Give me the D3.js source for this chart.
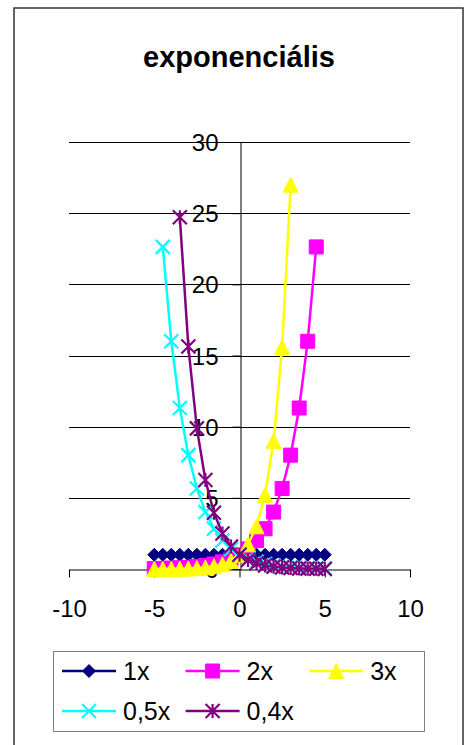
<!DOCTYPE html>
<html>
<head>
<meta charset="utf-8">
<script src="https://cdn.jsdelivr.net/npm/d3@7"></script>
<style>
	body{margin:0;background:#fff;}
	svg text{font-family:"Liberation Sans",Arial,sans-serif;fill:#000;}
</style>
</head>
<body>
<div id="app"></div>
<script>
const appSelector = "#app";

const title = "exponenciális";
const xValues = [-5,-4.5,-4,-3.5,-3,-2.5,-2,-1.5,-1,-0.5,0,0.5,1,1.5,2,2.5,3,3.5,4,4.5,5];
const y1x = [1,1,1,1,1,1,1,1,1,1,1,1,1,1,1,1,1,1,1,1,1];
const y2x = [0.031,0.044,0.063,0.088,0.125,0.177,0.25,0.354,0.5,0.707,1,1.414,2,2.83,4,5.66,8,11.31,16,22.63,null];
const y3x = [0.004,0.007,0.012,0.021,0.037,0.064,0.111,0.192,0.333,0.577,1,1.732,3,5.2,9,15.59,27,null,null,null,null];
const y05x = [null,22.63,16,11.31,8,5.66,4,2.83,2,1.414,1,0.707,0.5,0.354,0.25,0.177,0.125,0.088,0.063,0.044,0.031];
const y04x = [null,null,null,24.71,15.63,9.88,6.25,3.95,2.5,1.58,1,0.632,0.4,0.253,0.16,0.101,0.064,0.04,0.026,0.016,0.01];
const seriesNames = ["1x","2x","3x","0,5x","0,4x"];
const seriesValues = [y1x,y2x,y3x,y05x,y04x];
const seriesColors = ["#000080","#ff00ff","#ffff00","#00ffff","#800080"];
const seriesMarkers = ["diamond","square","triangle","x","star"];
const xTicks = [-10,-5,0,5,10];
const yTicks = [0,5,10,15,20,25,30];

const W = 464, H = 745;
const plot = {left:69, right:410, top:142, bottom:569};

const svg = d3.select(appSelector).append("svg").attr("width",W).attr("height",H);

//outer chart border
svg.append("rect").attr("x",14).attr("y",8).attr("width",449).attr("height",760)
	.attr("fill","none").attr("stroke","#333").attr("stroke-width",1.5);

svg.append("text").attr("x",239).attr("y",67).attr("text-anchor","middle")
	.style("font-size","29px").style("font-weight","bold").text(title);

const x = d3.scaleLinear().domain([-10,10]).range([plot.left,plot.right]);
const y = d3.scaleLinear().domain([0,30]).range([plot.bottom,plot.top]);

//gridlines
svg.append("g").selectAll("line").data(yTicks.filter(t=>t>0)).enter().append("line")
	.attr("x1",plot.left).attr("x2",plot.right)
	.attr("y1",d=>Math.round(y(d))+0.5).attr("y2",d=>Math.round(y(d))+0.5)
	.attr("stroke","#000").attr("stroke-width",1);

//plain hyphen for negatives, like the original
const fmt = d=>String(d);

//x axis through y=0
const xAxis = svg.append("g").attr("transform","translate(0,"+(Math.round(y(0))+0.5)+")")
	.call(d3.axisBottom(x).tickValues(xTicks).tickSize(8).tickSizeOuter(0).tickFormat(fmt));
//y axis through x=0
const yAxis = svg.append("g").attr("transform","translate("+(Math.round(x(0))+0.5)+",0)")
	.call(d3.axisLeft(y).tickValues(yTicks).tickSize(8).tickSizeOuter(0).tickFormat(fmt));

[xAxis,yAxis].forEach(function(a){
	a.select(".domain").attr("stroke","#000");
	a.selectAll(".tick line").attr("stroke","#000");
	a.selectAll(".tick text").style("font-size","24px").attr("font-family",null);
});
xAxis.selectAll(".tick text").attr("y",0).attr("dy",null).attr("dominant-baseline","central")
	.attr("transform","translate(0,39)");
yAxis.selectAll(".tick text").attr("x",-22).attr("dy",null).attr("dominant-baseline","central");

//marker shapes
function markerPath(type, s){
	let h = s/2;
	switch(type){
		case "diamond": return "M0,"+(-h)+"L"+h+",0L0,"+h+"L"+(-h)+",0Z";
		case "square": return "M"+(-h)+","+(-h)+"H"+h+"V"+h+"H"+(-h)+"Z";
		case "triangle": return "M0,"+(-h)+"L"+h+","+h+"L"+(-h)+","+h+"Z";
		case "x": return "M"+(-h)+","+(-h)+"L"+h+","+h+"M"+h+","+(-h)+"L"+(-h)+","+h;
		case "star": return "M"+(-h)+","+(-h)+"L"+h+","+h+"M"+h+","+(-h)+"L"+(-h)+","+h+"M0,"+(-h)+"V"+h;
	}
}
function drawMarker(g, type, color){
	let open = (type=="x"||type=="star");
	let size = {diamond:13, square:14, triangle:15, x:14, star:14}[type];
	g.append("path").attr("d",markerPath(type,size))
		.attr("fill",open ? "none" : color)
		.attr("stroke",color).attr("stroke-width",open ? 2.2 : 1);
}

const line = d3.line().defined(d=>d.v!=null).x(d=>x(d.x)).y(d=>y(d.v));

seriesValues.forEach(function(vals,i){
	let pts = vals.map((v,k)=>({x:xValues[k], v:v}));
	let g = svg.append("g").attr("class","series");
	g.append("path").datum(pts).attr("d",line)
		.attr("fill","none").attr("stroke",seriesColors[i]).attr("stroke-width",2.5);
	g.selectAll("g.m").data(pts.filter(d=>d.v!=null)).enter().append("g").attr("class","m")
		.attr("transform",d=>"translate("+x(d.x)+","+y(d.v)+")")
		.each(function(){ drawMarker(d3.select(this), seriesMarkers[i], seriesColors[i]); });
});

//legend
const lg = svg.append("g");
lg.append("rect").attr("x",53.5).attr("y",651.5).attr("width",371).attr("height",80)
	.attr("fill","#fff").attr("stroke","#808080").attr("stroke-width",1);
seriesNames.forEach(function(name,i){
	let col = i%3, row = Math.floor(i/3);
	let lx = 62 + col*123.6, ly = 671 + row*40;
	let e = lg.append("g").attr("transform","translate("+lx+","+ly+")");
	e.append("line").attr("x1",0).attr("x2",54).attr("y1",0).attr("y2",0)
		.attr("stroke",seriesColors[i]).attr("stroke-width",2.5);
	drawMarker(e.append("g").attr("transform","translate(27,0)"), seriesMarkers[i], seriesColors[i]);
	e.append("text").attr("x",61).attr("y",0).attr("dominant-baseline","central")
		.style("font-size","25px").text(name);
});
</script>
</body>
</html>
